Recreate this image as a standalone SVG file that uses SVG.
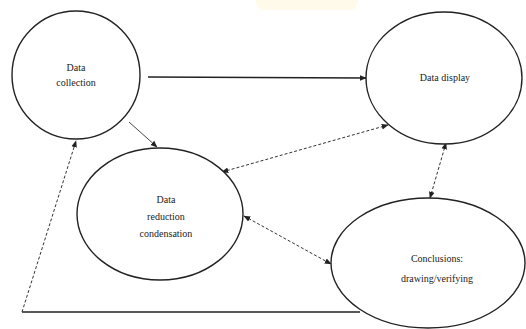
<svg xmlns="http://www.w3.org/2000/svg" width="526" height="329" viewBox="0 0 526 329">
<style>
.node{fill:#fff;stroke:#222;stroke-width:1.4}
.lbl{font-family:"Liberation Serif",serif;font-size:10px;fill:#222;text-anchor:middle}
.solid{fill:none;stroke:#222;stroke-width:1.3}
.thin{fill:none;stroke:#333;stroke-width:0.9}
.dash{fill:none;stroke:#333;stroke-width:1;stroke-dasharray:3 2}
</style>
<defs>
<marker id="ah" viewBox="0 0 10 10" refX="9" refY="5" markerWidth="7" markerHeight="7" orient="auto-start-reverse" markerUnits="userSpaceOnUse">
<path d="M0,1 L10,5 L0,9 z" fill="#222"/>
</marker>
</defs>
<rect width="526" height="329" fill="#fff"/>
<rect x="256" y="-10" width="102" height="20" rx="8" fill="#fffaea"/>
<g id="connectors">
<line class="solid" x1="148" y1="77" x2="366" y2="78" marker-end="url(#ah)"/>
<line class="thin" x1="129" y1="122" x2="157" y2="147" marker-end="url(#ah)"/>
<line class="dash" x1="222" y1="172" x2="388" y2="125" marker-start="url(#ah)" marker-end="url(#ah)"/>
<line class="dash" x1="446" y1="143" x2="430" y2="198" marker-start="url(#ah)" marker-end="url(#ah)"/>
<line class="dash" x1="244" y1="216" x2="331" y2="264" marker-start="url(#ah)" marker-end="url(#ah)"/>
<polyline class="solid" points="360,312 22,312"/>
<line class="dash" x1="22" y1="312" x2="76" y2="141" marker-end="url(#ah)"/>
</g>
<g id="data-collection">
<circle class="node" cx="76" cy="75" r="64"/>
<text class="lbl" x="76" y="71">Data</text>
<text class="lbl" x="76" y="86">collection</text>
</g>
<g id="data-display">
<ellipse class="node" cx="444" cy="78" rx="78" ry="66"/>
<text class="lbl" x="445" y="81">Data display</text>
</g>
<g id="data-reduction">
<ellipse class="node" cx="160" cy="214" rx="83" ry="66"/>
<text class="lbl" x="166" y="203">Data</text>
<text class="lbl" x="166" y="220">reduction</text>
<text class="lbl" x="166" y="237">condensation</text>
</g>
<g id="conclusions">
<ellipse class="node" cx="428" cy="263" rx="97" ry="65"/>
<text class="lbl" x="437" y="262">Conclusions:</text>
<text class="lbl" x="437" y="282">drawing/verifying</text>
</g>
</svg>
